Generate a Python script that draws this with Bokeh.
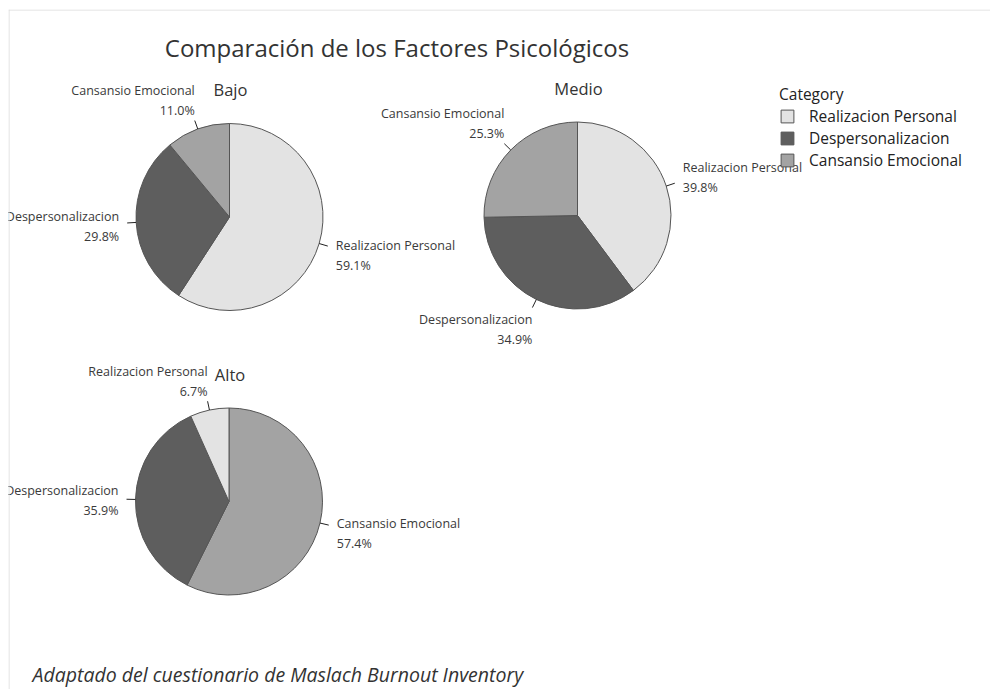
import math
from bokeh.plotting import figure
from bokeh.models import Range1d, Legend, LegendItem, ColumnDataSource, Label, Span
from bokeh.embed import file_html
from bokeh.resources import INLINE
from bokeh.core.properties import value

# ---------------- data ----------------
categories = ["Realizacion Personal", "Despersonalizacion", "Cansansio Emocional"]
groups = ["Bajo", "Medio", "Alto"]
bajo_pct = [59.1, 29.8, 11.0]
medio_pct = [39.8, 34.9, 25.3]
alto_pct = [6.7, 35.9, 57.4]
# clockwise order of slices from 12 o'clock (indices into categories)
slice_order = {"Bajo": [0, 1, 2], "Medio": [0, 1, 2], "Alto": [2, 1, 0]}
title_text = "Comparación de los Factores Psicológicos"
footnote_text = "Adaptado del cuestionario de Maslach Burnout Inventory"
legend_title = "Category"

# ---------------- style / layout ----------------
colors = ["#E3E3E3", "#5E5E5E", "#A3A3A3"]
W, H = 990, 689
FL, FT = 8, 9  # frame offset (thin border of the reference)
FONT = "Open Sans"
TXT = "#3a3a3a"
R = 93.5
centers = {"Bajo": (229, 216.5), "Medio": (577, 215), "Alto": (228.5, 501)}
values = {"Bajo": bajo_pct, "Medio": medio_pct, "Alto": alto_pct}


def X(px):
    return px


def Y(py):
    return H - py


p = figure(width=W, height=H, x_range=Range1d(FL, W), y_range=Range1d(0, H - FT),
           output_backend="svg", toolbar_location=None,
           min_border_left=FL, min_border_top=FT, min_border_right=0, min_border_bottom=0,
           x_axis_location=None, y_axis_location=None)
p.grid.visible = False
p.outline_line_color = None
p.background_fill_color = "white"
p.border_fill_color = "white"
p.add_layout(Span(location=FL + 0.5, dimension="height", line_color="#dcdcdc", line_width=1))
p.add_layout(Span(location=H - FT - 0.5, dimension="width", line_color="#dcdcdc", line_width=1))

renderers = {}
lab = dict(x=[], y=[], text=[], align=[])
lead = dict(x0=[], y0=[], x1=[], y1=[])
L = 9

for g in groups:
    cx, cy = centers[g]
    vals = values[g]
    total = sum(vals)
    src = dict(x=[], y=[], start=[], end=[], color=[], cat=[])
    cum = 0.0
    for k in slice_order[g]:
        v = vals[k]
        t1 = cum / total * 2 * math.pi
        t2 = (cum + v) / total * 2 * math.pi
        cum += v
        src["x"].append(X(cx))
        src["y"].append(Y(cy))
        src["start"].append(math.pi / 2 - t2)
        src["end"].append(math.pi / 2 - t1)
        src["color"].append(colors[k])
        src["cat"].append(categories[k])
        th = (t1 + t2) / 2
        s, c = math.sin(th), math.cos(th)
        x0, y0 = cx + R * s, cy - R * c
        x1, y1 = cx + (R + L) * s, cy - (R + L) * c
        lead["x0"].append(X(x0)); lead["y0"].append(Y(y0))
        lead["x1"].append(X(x1)); lead["y1"].append(Y(y1))
        name, pct = categories[k], f"{v:.1f}%"
        if abs(s) > 0.8:
            tx = x1 + 8 if s > 0 else x1 - 8
            al = "left" if s > 0 else "right"
            bc = y1 - c * 26 + 2
            ny, py = bc - 10, bc + 10
        else:
            tx = x1
            al = "left" if s > 0 else "right"
            if c > 0:
                py, ny = y1 - 10, y1 - 30
            else:
                ny, py = y1 + 12, y1 + 32
        for t, ty in ((name, ny), (pct, py)):
            lab["x"].append(X(tx)); lab["y"].append(Y(ty))
            lab["text"].append(t); lab["align"].append(al)
    renderers[g] = p.wedge(x="x", y="y", radius=R, start_angle="start", end_angle="end",
                           fill_color="color", line_color="#555555", line_width=1,
                           source=ColumnDataSource(src))
    # facet title
    p.text(x=[X(cx + 1)], y=[Y(cy - 127.5)], text=[g], text_font=value(FONT),
           text_font_size="16.5px", text_color="#333333", text_align="center",
           text_baseline="middle")

p.segment(x0="x0", y0="y0", x1="x1", y1="y1", source=ColumnDataSource(lead),
          line_color="#222222", line_width=1)
p.text(x="x", y="y", text="text", text_align="align", source=ColumnDataSource(lab),
       text_font=value(FONT), text_font_size="12.5px", text_color=TXT,
       text_baseline="middle")

p.add_layout(Label(x=X(396.5), y=Y(47), text=title_text, text_font=FONT,
                   text_font_size="24px", text_color="#333333", text_align="center",
                   text_baseline="middle"))
p.add_layout(Label(x=X(32), y=Y(674), text=footnote_text, text_font=FONT,
                   text_font_size="19.5px", text_font_style="italic", text_color="#333333",
                   text_align="left", text_baseline="middle"))

items = [LegendItem(label=categories[k], renderers=[renderers["Bajo"]],
                    index=slice_order["Bajo"].index(k)) for k in range(len(categories))]
legend = Legend(items=items, title=legend_title, location=(771, 518),
                title_text_font=FONT, title_text_font_size="15.5px", title_text_color="#222222",
                title_text_font_style="normal",
                label_text_font=FONT, label_text_font_size="15.5px", label_text_color="#222222",
                glyph_width=16, glyph_height=16, label_height=16, label_standoff=14,
                spacing=0, padding=0, margin=0, title_standoff=0,
                border_line_color=None, background_fill_alpha=0)
p.add_layout(legend)

open("out.html", "w").write(file_html(p, INLINE))
